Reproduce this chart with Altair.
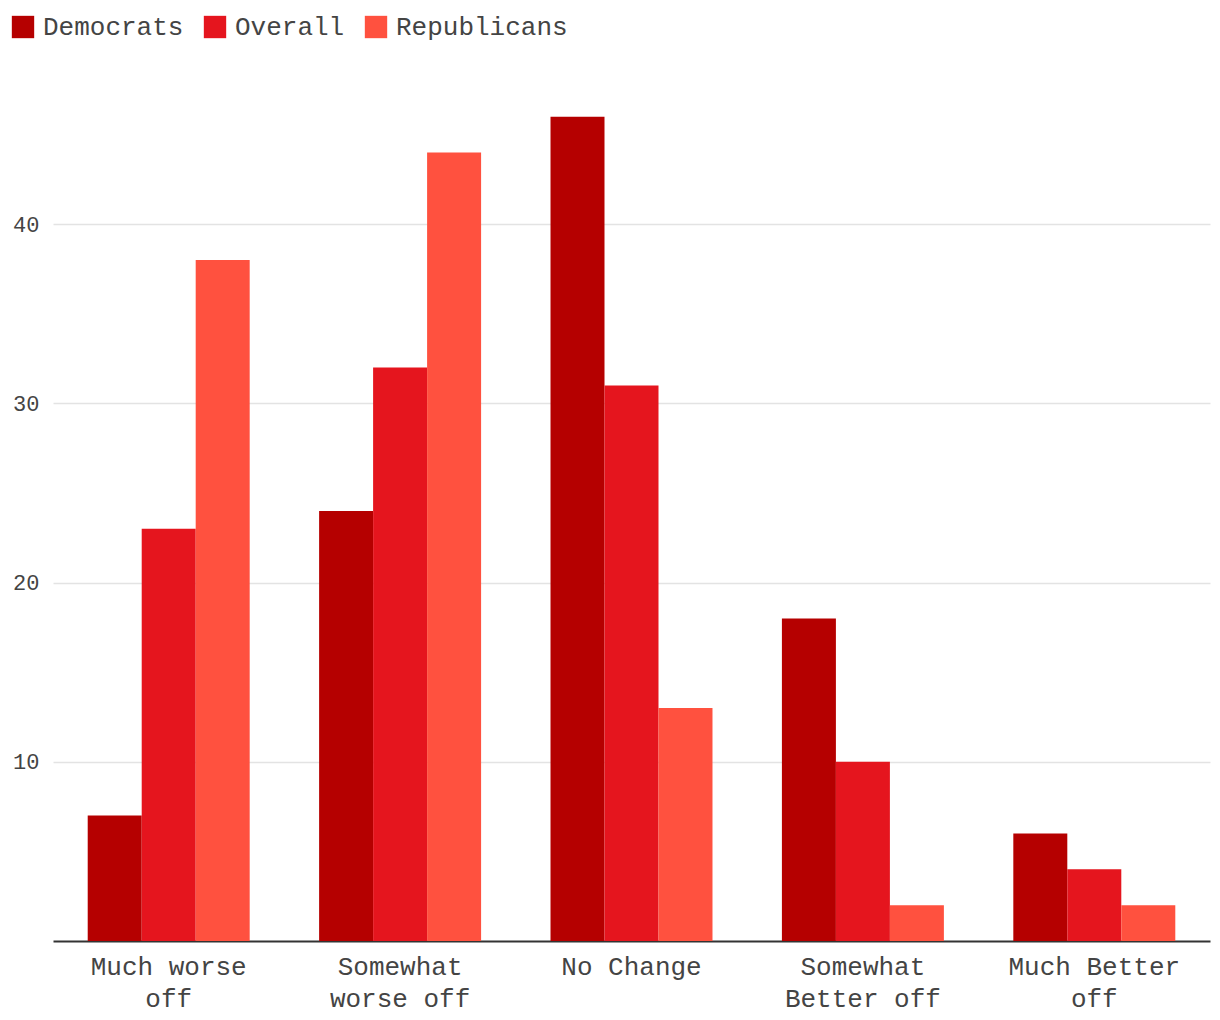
import altair as alt
import pandas as pd

categories = ["Much worse off", "Somewhat worse off", "No Change", "Somewhat Better off", "Much Better off"]
wrapped = [["Much worse", "off"], ["Somewhat", "worse off"], ["No Change"], ["Somewhat", "Better off"], ["Much Better", "off"]]
groups = ["Democrats", "Overall", "Republicans"]
democrats = [7, 24, 46, 18, 6]
overall = [23, 32, 31, 10, 4]
republicans = [38, 44, 13, 2, 2]
colors = ["#b50000", "#e5151e", "#ff513f"]

rows = []
for i, c in enumerate(categories):
    for g, vals in zip(groups, [democrats, overall, republicans]):
        rows.append({"category": c, "group": g, "value": vals[i]})
df = pd.DataFrame(rows)

mapping = ", ".join("'%s': [%s]" % (c, ", ".join("'%s'" % w for w in ws)) for c, ws in zip(categories, wrapped))
label_expr = "{" + mapping + "}[datum.label]"

font = "Courier New, Courier, Liberation Mono, monospace"

chart = alt.Chart(df).mark_bar().encode(
    x=alt.X("category:N", sort=categories, title=None,
            scale=alt.Scale(paddingInner=0.3, paddingOuter=0.15),
            axis=alt.Axis(labelAngle=0, labelExpr=label_expr, labelFont=font, labelFontSize=26,
                          labelColor="#444", labelLineHeight=32, labelPadding=12, ticks=False,
                          domainColor="#333", domainWidth=2, grid=False)),
    xOffset=alt.XOffset("group:N", sort=groups),
    y=alt.Y("value:Q", title=None,
            scale=alt.Scale(domain=[0, 50], nice=False),
            axis=alt.Axis(values=[10, 20, 30, 40], labelFont=font, labelFontSize=22, labelColor="#444",
                          domain=False, ticks=False, labelPadding=14, gridColor="#e3e3e3", gridWidth=1.5)),
    color=alt.Color("group:N", sort=groups, scale=alt.Scale(domain=groups, range=colors),
                    legend=alt.Legend(title=None, orient="none", direction="horizontal",
                                      legendX=-43, legendY=-31, symbolType="square", symbolSize=500,
                                      symbolStrokeWidth=0, labelFont=font, labelFontSize=26,
                                      labelColor="#444", labelOffset=7, columnPadding=18, labelLimit=400)),
).properties(width=1157, height=896, padding={"left": 2, "top": 6, "right": 2, "bottom": 5}).configure_view(stroke=None)

chart.save("out.html", embed_options={"renderer": "svg", "actions": False})
